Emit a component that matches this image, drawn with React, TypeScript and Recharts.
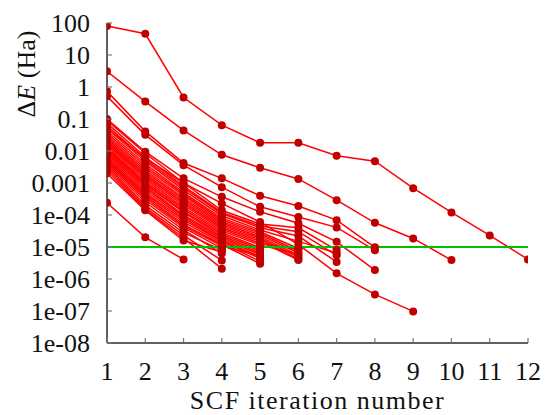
import React from 'react';
import { LineChart, Line, XAxis, YAxis, Label } from 'recharts';

// ---------- data ----------
const ITERATIONS = [1, 2, 3, 4, 5, 6, 7, 8, 9, 10, 11, 12];
const Y_TICKS = [1e-8, 1e-7, 1e-6, 1e-5, 1e-4, 1e-3, 1e-2, 1e-1, 1, 10, 100];
const Y_TICK_LABELS = ['1e-08', '1e-07', '1e-06', '1e-05', '1e-04', '0.001', '0.01', '0.1', '1', '10', '100'];
const THRESHOLD = 1e-5;
const THRESHOLD_SPAN = [1, 12];

// outlying runs
const runA = [80, 46, 0.47, 0.064, 0.018, 0.018, 0.0071, 0.0048, 0.00069, 1.2e-4, 2.3e-5, 4.1e-6];
const runB = [3.1, 0.35, 0.044, 0.0076, 0.003, 0.00134, 2.9e-4, 5.7e-5, 1.85e-5, 3.9e-6];
const runC1 = [0.73, 0.041, 0.0042, 0.0014, 4e-4, 1.9e-4, 6.9e-5, 9.8e-6];
const runC2 = [0.51, 0.032, 0.0036, 7.4e-4, 1.8e-4, 8.7e-5, 4.1e-5, 7.9e-6];
const runC3 = [0.1, 0.0095, 0.0014, 3.7e-4, 1.26e-4, 5.5e-5, 1.45e-5, 1.9e-6];
const runC4 = [0.05, 0.006, 0.001, 2.3e-4, 6e-5, 1.2e-5, 1.5e-6, 3.3e-7, 9.7e-8];
const runD = [2.4e-4, 2e-5, 4.1e-6];

// main bundle of runs
const bundle1 = [0.09, 0.0085, 0.001, 1.4e-4, 5.2e-5, 4e-5, 8e-6];
const bundle2 = [0.075, 0.0065, 0.0008, 1.2e-4, 4.5e-5, 3e-5, 5.5e-6];
const bundle3 = [0.062, 0.0055, 0.0007, 1.1e-4, 4e-5, 2.2e-5, 3.4e-6];
const bundle4 = [0.05, 0.0048, 0.0006, 9.5e-5, 3.4e-5, 1.5e-5, 6.5e-6];
const bundle5 = [0.042, 0.004, 0.0005, 8e-5, 3e-5, 9e-6];
const bundle6 = [0.036, 0.0034, 0.00045, 7e-5, 2.7e-5, 7.5e-6];
const bundle7 = [0.031, 0.0029, 0.0004, 6.2e-5, 2.4e-5, 6.5e-6];
const bundle8 = [0.027, 0.0025, 0.00034, 5.6e-5, 2.1e-5, 5.5e-6];
const bundle9 = [0.024, 0.0022, 0.0003, 5e-5, 1.9e-5, 4.8e-6];
const bundle10 = [0.021, 0.0019, 0.00026, 4.5e-5, 1.7e-5, 4.2e-6];
const bundle11 = [0.019, 0.0017, 0.00023, 4e-5, 1.5e-5, 3.9e-6];
const bundle12 = [0.017, 0.0015, 0.0002, 3.6e-5, 1.3e-5, 8.5e-6];
const bundle13 = [0.015, 0.0013, 0.00017, 3.2e-5, 1.15e-5, 6e-6];
const bundle14 = [0.013, 0.0011, 0.00015, 2.8e-5, 9.5e-6];
const bundle15 = [0.012, 0.001, 0.00013, 2.5e-5, 8.5e-6];
const bundle16 = [0.011, 0.0009, 0.00012, 2.2e-5, 7.5e-6];
const bundle17 = [0.01, 0.0008, 0.0001, 2e-5, 6.5e-6];
const bundle18 = [0.009, 0.0007, 9e-5, 1.8e-5, 5.8e-6];
const bundle19 = [0.008, 0.0006, 8e-5, 1.6e-5, 5e-6];
const bundle20 = [0.007, 0.0005, 7e-5, 1.5e-5, 4.4e-6];
const bundle21 = [0.006, 0.00045, 6e-5, 1.35e-5, 3.6e-6];
const bundle22 = [0.0055, 0.0004, 5e-5, 1.2e-5, 3e-6];
const bundle23 = [0.005, 0.00035, 4.5e-5, 1.1e-5, 5.2e-6];
const bundle24 = [0.0045, 0.0003, 4e-5, 9e-6];
const bundle25 = [0.004, 0.00025, 3.4e-5, 6.3e-6];
const bundle26 = [0.0035, 0.0002, 2.8e-5, 8e-6];
const bundle27 = [0.003, 0.00017, 2.3e-5, 3.8e-6];
const bundle28 = [0.0025, 0.00015, 1.9e-5, 2.1e-6];
const bundle29 = [0.002, 0.00014, 1.6e-5, 7e-6];

const RUNS = [
  bundle1, bundle2, bundle3, bundle4, bundle5, bundle6, bundle7, bundle8, bundle9, bundle10,
  bundle11, bundle12, bundle13, bundle14, bundle15, bundle16, bundle17, bundle18, bundle19, bundle20,
  bundle21, bundle22, bundle23, bundle24, bundle25, bundle26, bundle27, bundle28, bundle29,
  runD, runC4, runC3, runC2, runC1, runB, runA,
];

// ---------- styles ----------
const FONT = '"Liberation Serif", "Times New Roman", serif';
const FONT_SIZE = 26;
const TEXT_COLOR = '#111';
const AXIS_COLOR = '#2a2a2a';
const TICK_COLOR = '#777';
const LINE_COLOR = '#ff0000';
const DOT_COLOR = '#c00000';
const THRESHOLD_COLOR = '#00c000';
const TICK_LEN = 5;

const toPoints = (run: number[]) => run.map((v, i) => ({ x: ITERATIONS[i], y: v }));
const thresholdPoints = THRESHOLD_SPAN.map((x) => ({ x, y: THRESHOLD }));

const yLabelFor = (v: number) => {
  const idx = Y_TICKS.findIndex((t) => Math.abs(Math.log10(t) - Math.log10(v)) < 1e-6);
  return idx >= 0 ? Y_TICK_LABELS[idx] : String(v);
};

const BottomTick = (props: any) => {
  const { x, y, payload } = props;
  return (
    <g>
      <line x1={x} y1={y} x2={x} y2={y - TICK_LEN} stroke={TICK_COLOR} strokeWidth={1.2} />
      <text x={x} y={y + 37} textAnchor="middle" fontSize={FONT_SIZE} fontFamily={FONT} fill={TEXT_COLOR}>
        {payload.value}
      </text>
    </g>
  );
};

const TopTick = (props: any) => {
  const { x, y } = props;
  return <line x1={x} y1={y} x2={x} y2={y + TICK_LEN} stroke={TICK_COLOR} strokeWidth={1.2} />;
};

const LeftTick = (props: any) => {
  const { x, y, payload } = props;
  return (
    <g>
      <line x1={x} y1={y} x2={x + TICK_LEN} y2={y} stroke={TICK_COLOR} strokeWidth={1.2} />
      <text x={x - 17} y={y + 9} textAnchor="end" fontSize={FONT_SIZE} fontFamily={FONT} fill={TEXT_COLOR}>
        {yLabelFor(payload.value)}
      </text>
    </g>
  );
};

const RightTick = (props: any) => {
  const { x, y } = props;
  return <line x1={x} y1={y} x2={x - TICK_LEN} y2={y} stroke={TICK_COLOR} strokeWidth={1.2} />;
};

const YTitle = (props: any) => {
  const vb = props.viewBox || { x: 7, y: 23, width: 100, height: 320 };
  const cx = vb.x + 28;
  const cy = vb.y + 51;
  return (
    <text
      x={cx}
      y={cy}
      transform={`rotate(-90, ${cx}, ${cy})`}
      textAnchor="middle"
      fontSize={FONT_SIZE}
      fontFamily={FONT}
      fill={TEXT_COLOR}
    >
      Δ<tspan fontStyle="italic">E</tspan> (Ha)
    </text>
  );
};

const XTitle = (props: any) => {
  const vb = props.viewBox || { x: 107, y: 343, width: 421, height: 72 };
  const cx = vb.x + vb.width / 2;
  return (
    <text
      x={cx}
      y={vb.y + 66}
      textAnchor="middle"
      fontSize={FONT_SIZE}
      fontFamily={FONT}
      fill={TEXT_COLOR}
      letterSpacing={1.5}
    >
      SCF iteration number
    </text>
  );
};

export default function App() {
  return (
    <div style={{ position: 'absolute', left: 0, top: 0, width: 548, height: 415, background: '#fff' }}>
      <LineChart width={548} height={415} margin={{ top: 23, right: 20, bottom: 0, left: 7 }}>
        <XAxis
          xAxisId="main"
          dataKey="x"
          type="number"
          domain={[1, 12]}
          ticks={ITERATIONS}
          allowDataOverflow
          height={72}
          tickSize={0}
          tickMargin={0}
          tickLine={false}
          tick={<BottomTick />}
          axisLine={{ stroke: AXIS_COLOR, strokeWidth: 1.5 }}
        >
          <Label content={<XTitle />} />
        </XAxis>
        <XAxis
          xAxisId="top"
          orientation="top"
          dataKey="x"
          type="number"
          domain={[1, 12]}
          ticks={ITERATIONS}
          allowDataOverflow
          height={0}
          tickSize={0}
          tickMargin={0}
          tickLine={false}
          tick={<TopTick />}
          axisLine={{ stroke: AXIS_COLOR, strokeWidth: 1.5 }}
        />
        <YAxis
          yAxisId="main"
          scale="log"
          type="number"
          domain={[1e-8, 100]}
          ticks={Y_TICKS}
          allowDataOverflow
          width={100}
          tickSize={0}
          tickMargin={0}
          tickLine={false}
          tick={<LeftTick />}
          axisLine={{ stroke: AXIS_COLOR, strokeWidth: 1.5 }}
        >
          <Label content={<YTitle />} />
        </YAxis>
        <YAxis
          yAxisId="right"
          orientation="right"
          scale="log"
          type="number"
          domain={[1e-8, 100]}
          ticks={Y_TICKS}
          allowDataOverflow
          width={0}
          tickSize={0}
          tickMargin={0}
          tickLine={false}
          tick={<RightTick />}
          axisLine={{ stroke: AXIS_COLOR, strokeWidth: 1.5 }}
        />
        {RUNS.map((run, i) => (
          <Line
            key={`run-${i}`}
            xAxisId="main"
            yAxisId="main"
            data={toPoints(run)}
            dataKey="y"
            type="linear"
            stroke={LINE_COLOR}
            strokeWidth={1.5}
            dot={{ r: 4, fill: DOT_COLOR, stroke: DOT_COLOR, strokeWidth: 0 }}
            activeDot={false}
            isAnimationActive={false}
          />
        ))}
        <Line
          key="threshold"
          xAxisId="main"
          yAxisId="main"
          data={thresholdPoints}
          dataKey="y"
          type="linear"
          stroke={THRESHOLD_COLOR}
          strokeWidth={2}
          dot={false}
          activeDot={false}
          isAnimationActive={false}
        />
      </LineChart>
    </div>
  );
}
